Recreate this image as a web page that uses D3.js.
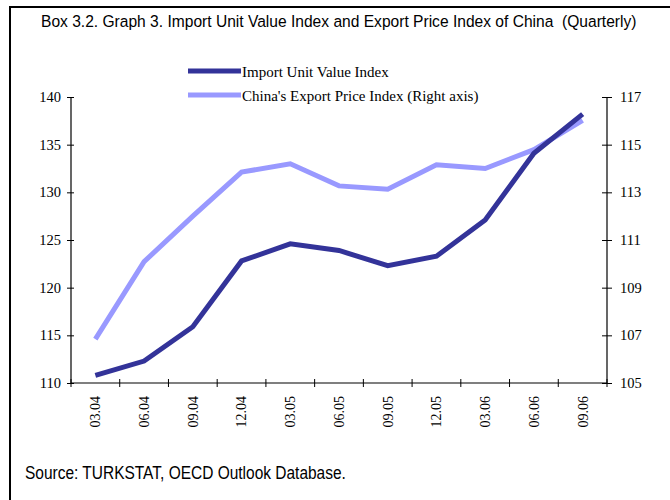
<!DOCTYPE html>
<html>
<head>
<meta charset="utf-8">
<script src="https://cdn.jsdelivr.net/npm/d3@7"></script>
<style>
  body { margin: 0; background: #fff; }
  .serif { font-family: "Liberation Serif", "Times New Roman", serif; }
  .narrow { font-family: "Liberation Sans Narrow", "Arial Narrow", "Liberation Sans", sans-serif; white-space: pre; }
</style>
</head>
<body>
<div id="chart"></div>
<script>
// data
var quarters = ["03.04", "06.04", "09.04", "12.04", "03.05", "06.05", "09.05", "12.05", "03.06", "06.06", "09.06"];
var importIdx = [110.8, 112.3, 115.9, 122.8, 124.6, 123.9, 122.3, 123.3, 127.1, 134.1, 138.2];
var exportIdx = [106.84, 110.09, 112.0, 113.85, 114.2, 113.27, 113.13, 114.16, 114.0, 114.79, 116.02];
var leftTicks = [110, 115, 120, 125, 130, 135, 140];
var rightTicks = [105, 107, 109, 111, 113, 115, 117];

var W = 670, H = 500;
var plot = {l: 71, r: 607, t: 97, b: 383};

var svg = d3.select("#chart").append("svg")
  .attr("width", W).attr("height", H);

// frame: top and left rule only
svg.append("line").attr("x1", 9).attr("x2", W).attr("y1", 7).attr("y2", 7)
  .attr("stroke", "#000").attr("stroke-width", 2);
svg.append("line").attr("x1", 10).attr("x2", 10).attr("y1", 6).attr("y2", H)
  .attr("stroke", "#000").attr("stroke-width", 2);

// narrow look: taller glyphs squeezed horizontally to the reference width
function narrowText(str, x0, y0, size, width) {
  var t = svg.append("text").attr("class", "narrow")
    .style("font-size", size + "px")
    .text(str);
  var k = width / t.node().getComputedTextLength();
  t.attr("transform", "translate(" + x0 + "," + y0 + ") scale(" + k + ",1)");
  return t;
}
narrowText("Box 3.2. Graph 3. Import Unit Value Index and Export Price Index of China  (Quarterly)", 41, 27, 17, 596);
narrowText("Source: TURKSTAT, OECD Outlook Database.", 25, 479, 17.5, 321);

var x = d3.scaleBand().domain(quarters).range([plot.l, plot.r]);
var yL = d3.scaleLinear().domain([110, 140]).range([plot.b, plot.t]);
var yR = d3.scaleLinear().domain([105, 117]).range([plot.b, plot.t]);

var g = svg.append("g").attr("class", "serif");

// left axis
var axL = g.append("g").attr("transform", "translate(" + plot.l + ",0)")
  .call(d3.axisLeft(yL).tickValues(leftTicks).tickSize(4).tickPadding(6));
// right axis
var axR = g.append("g").attr("transform", "translate(" + plot.r + ",0)")
  .call(d3.axisRight(yR).tickValues(rightTicks).tickSize(5).tickPadding(8));
// x axis, ticks at band edges
var edges = quarters.map(function(q) { return x(q); }).concat([plot.r]);
var axX = g.append("g").attr("transform", "translate(0," + plot.b + ")")
  .call(d3.axisBottom(x).tickSize(0).tickPadding(0));

[axL, axR, axX].forEach(function(a) {
  a.select(".domain").attr("stroke", "#000").attr("stroke-width", 1.2);
  a.selectAll(".tick line").attr("stroke", "#000");
  a.selectAll("text").style("font-size", "14.5px").attr("fill", "#000")
    .style("font-family", "'Liberation Serif', 'Times New Roman', serif");
});
axL.select(".domain").attr("d", "M0," + plot.t + "V" + plot.b);
axR.select(".domain").attr("d", "M0," + plot.t + "V" + plot.b);
axX.select(".domain").attr("d", "M" + plot.l + ",0H" + plot.r);
axL.selectAll(".tick line").attr("x1", 3);
axR.selectAll(".tick line").attr("x1", -5);

axX.selectAll(".tick text")
  .attr("transform", "rotate(-90)")
  .attr("text-anchor", "end")
  .attr("x", -13).attr("y", 0).attr("dy", "0.35em")
  .style("font-size", "14px");

axX.selectAll(".edge").data(edges).enter().append("line")
  .attr("class", "edge")
  .attr("x1", function(d) { return d; }).attr("x2", function(d) { return d; })
  .attr("y1", -4).attr("y2", 4)
  .attr("stroke", "#000");

var cx = function(i) { return x(quarters[i]) + x.bandwidth() / 2; };

var lineL = d3.line().x(function(d, i) { return cx(i); }).y(function(d) { return yL(d); });
var lineR = d3.line().x(function(d, i) { return cx(i); }).y(function(d) { return yR(d); });

svg.append("path").datum(exportIdx)
  .attr("d", lineR).attr("fill", "none")
  .attr("stroke", "#9999FF").attr("stroke-width", 5);
svg.append("path").datum(importIdx)
  .attr("d", lineL).attr("fill", "none")
  .attr("stroke", "#333399").attr("stroke-width", 5);

// legend
var legend = [
  {name: "Import Unit Value Index", color: "#333399", y: 71},
  {name: "China's Export Price Index (Right axis)", color: "#9999FF", y: 95}
];
var lg = svg.append("g").attr("class", "serif");
lg.selectAll("line").data(legend).enter().append("line")
  .attr("x1", 188).attr("x2", 241)
  .attr("y1", function(d) { return d.y; }).attr("y2", function(d) { return d.y; })
  .attr("stroke", function(d) { return d.color; }).attr("stroke-width", 5);
lg.selectAll("text").data(legend).enter().append("text")
  .attr("x", 242).attr("y", function(d) { return d.y + 6; })
  .style("font-size", "15px")
  .text(function(d) { return d.name; });
</script>
</body>
</html>
